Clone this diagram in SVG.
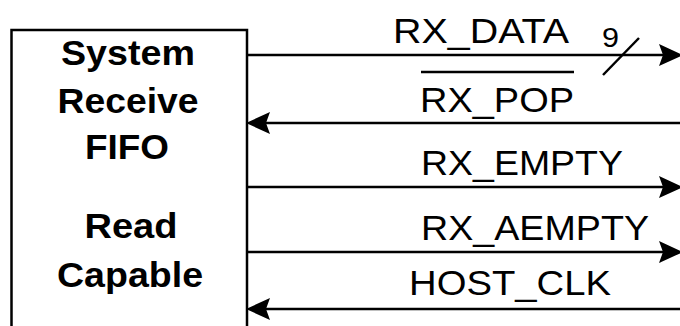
<svg xmlns="http://www.w3.org/2000/svg" width="680" height="326" viewBox="0 0 680 326">
  <defs>
    <style>
      .wire { stroke: #000; stroke-width: 2.5; fill: none; }
      .lbl { font-family: "Liberation Sans", Arial, sans-serif; font-size: 35px; fill: #000; }
      .title { font-family: "Liberation Sans", Arial, sans-serif; font-size: 35px; font-weight: bold; fill: #000; text-anchor: middle; }
      .bus { font-family: "Liberation Sans", Arial, sans-serif; font-size: 27px; fill: #000; }
    </style>
    <marker id="head" markerUnits="userSpaceOnUse" markerWidth="26" markerHeight="24" refX="5" refY="11" orient="auto" overflow="visible">
      <path d="M0,0 L24,11 L0,22 L4,11 Z" fill="#000"/>
    </marker>
  </defs>

  <rect width="680" height="326" fill="#fff"/>

  <!-- FIFO block -->
  <g id="fifo">
    <rect x="11.5" y="30" width="235.5" height="320" fill="#fff" stroke="#000" stroke-width="2.5"/>
    <text class="title" x="128" y="65" textLength="134" lengthAdjust="spacingAndGlyphs">System</text>
    <text class="title" x="128" y="113" textLength="141" lengthAdjust="spacingAndGlyphs">Receive</text>
    <text class="title" x="127" y="159" textLength="84" lengthAdjust="spacingAndGlyphs">FIFO</text>
    <text class="title" x="131" y="238" textLength="93" lengthAdjust="spacingAndGlyphs">Read</text>
    <text class="title" x="130" y="287" textLength="146" lengthAdjust="spacingAndGlyphs">Capable</text>
  </g>

  <!-- signal wires -->
  <g id="connectors">
    <line class="wire" x1="247" y1="55" x2="664" y2="55" marker-end="url(#head)"/>
    <line class="wire" x1="680" y1="123" x2="265" y2="123" marker-end="url(#head)"/>
    <line class="wire" x1="247" y1="187" x2="664" y2="187" marker-end="url(#head)"/>
    <line class="wire" x1="247" y1="252" x2="664" y2="252" marker-end="url(#head)"/>
    <line class="wire" x1="680" y1="309" x2="265" y2="309" marker-end="url(#head)"/>
    <!-- 9-bit bus slash -->
    <line class="wire" x1="603" y1="75" x2="639" y2="38"/>
    <!-- active-low overbar -->
    <line class="wire" x1="421" y1="72" x2="574" y2="72"/>
  </g>

  <g id="labels">
    <text class="lbl" x="393" y="43" textLength="176" lengthAdjust="spacingAndGlyphs">RX_DATA</text>
    <text class="bus" x="602" y="47" textLength="17" lengthAdjust="spacingAndGlyphs">9</text>
    <text class="lbl" x="420" y="112" textLength="154" lengthAdjust="spacingAndGlyphs">RX_POP</text>
    <text class="lbl" x="421" y="175" textLength="202" lengthAdjust="spacingAndGlyphs">RX_EMPTY</text>
    <text class="lbl" x="421" y="240" textLength="228" lengthAdjust="spacingAndGlyphs">RX_AEMPTY</text>
    <text class="lbl" x="409" y="295" textLength="202" lengthAdjust="spacingAndGlyphs">HOST_CLK</text>
  </g>
</svg>
